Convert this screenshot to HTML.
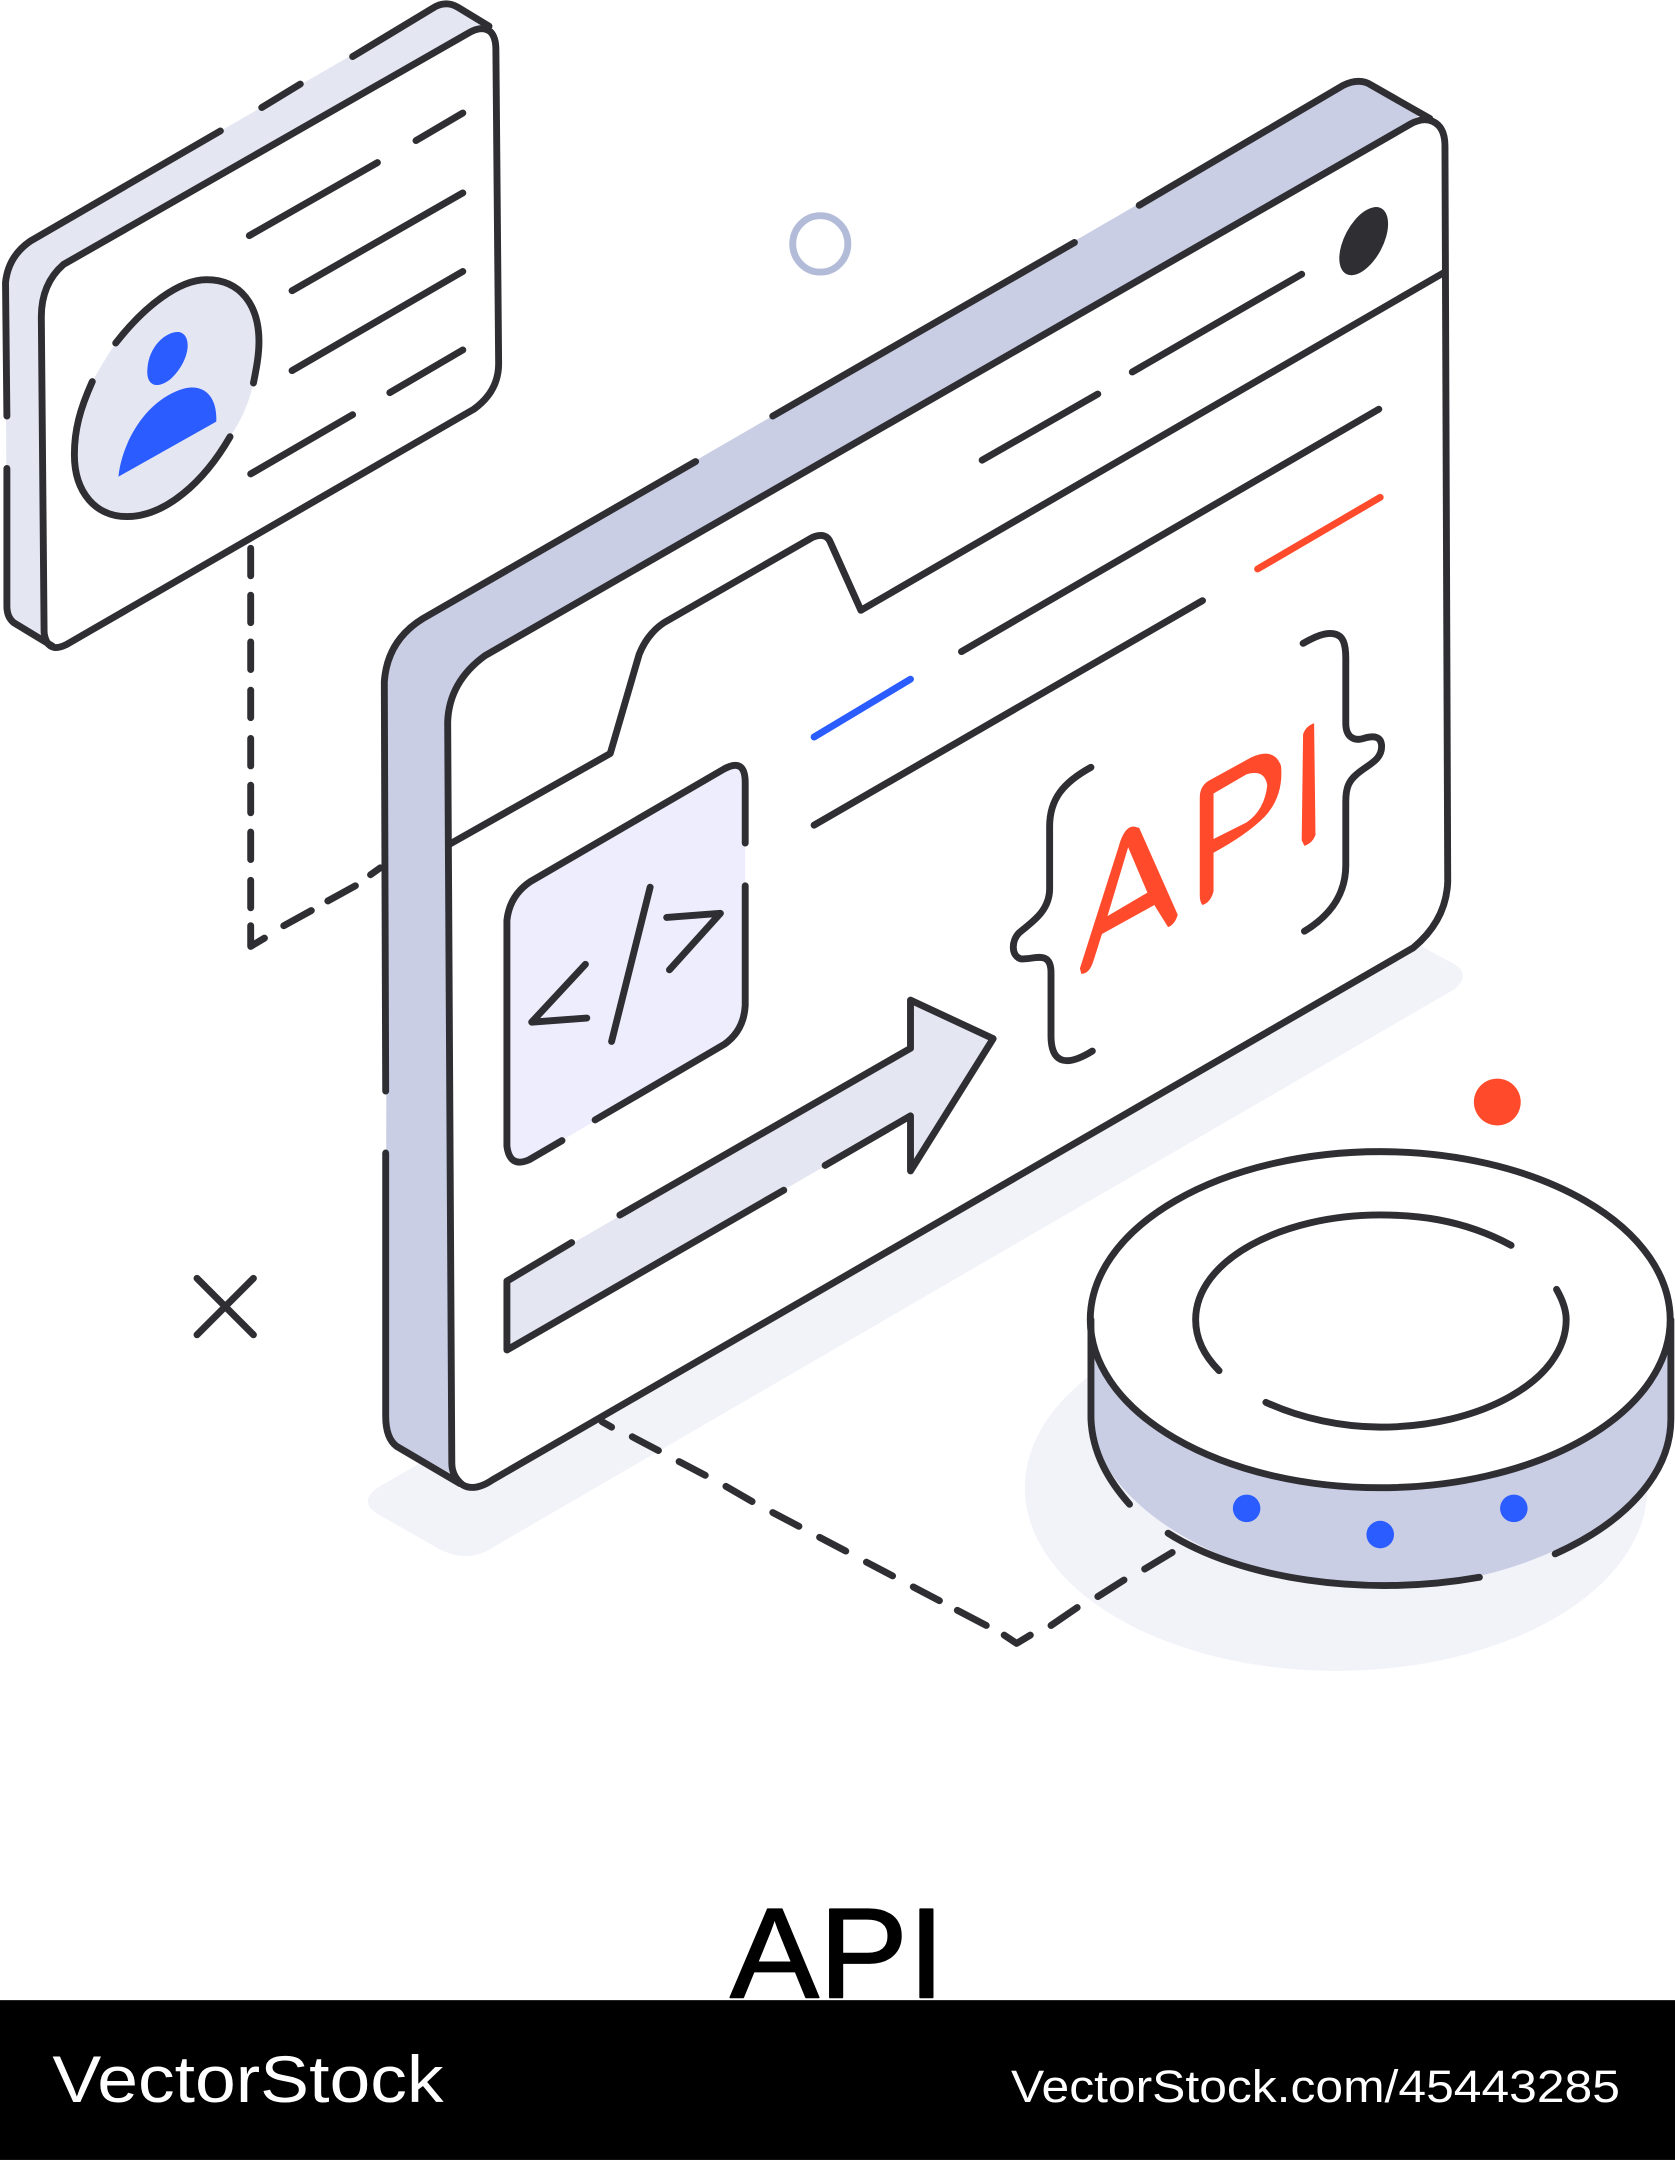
<!DOCTYPE html>
<html><head><meta charset="utf-8"><style>
html,body{margin:0;padding:0;background:#fff;width:1675px;height:2160px;overflow:hidden}
svg{display:block}
</style></head><body>
<svg xmlns="http://www.w3.org/2000/svg" width="1675" height="2160" viewBox="0 0 1216 1568">
<rect width="1216" height="1568" fill="#fff"/>
<!-- shadows -->
<path d="M1030 686L1056 700Q1068 708 1056 718L360 1122Q340 1136 318 1124L274 1099Q260 1090 274 1080L340 1042Z" fill="#f2f2f9"/>
<ellipse cx="970" cy="1080" rx="226" ry="133" fill="#f2f2f9"/>
<g fill="none" stroke="#2e2e33" stroke-width="5" stroke-linecap="round" stroke-linejoin="round">
<!-- Card -->
<path d="M4 205Q6 186 22 175L314 6Q323 0 332 5L358 20L46 205Q33 214 31 230L34 466L10 452Q5 448 5 440Z" fill="#e4e6f2" stroke="none"/>
<path d="M46 192L340 24Q350 18 356 23Q360 27 360 36L362 264Q362 284 344 297L48 468Q38 473 34 466Q32 462 32 458L30 230Q30 206 46 192Z" fill="#fff"/>
<path d="M5 302L4 205Q6 186 22 175L160 95M190 78L218 61M256 41L314 6Q323 0 332 5L355 19M5 340L5 440Q5 448 10 452L38 469"/>
<path d="M181 171L274 118M302 102L336 82M212 211L336 140M212 269L336 197M182 344L256 301M283 285L336 254"/>
<!-- avatar -->
<path d="M84 249C105 222 130 203 150 203C175 203 188 222 188 248C188 258 186 268 184 278C180 295 175 305 167 317C148 350 120 375 92 375C70 375 54 358 54 330C54 312 58 297 67 277C72 268 78 258 84 249Z" fill="#e4e6f2" stroke="none"/>
<path d="M84 249C105 222 130 203 150 203C175 203 188 222 188 248C188 258 186 268 184 278M67 277C58 297 54 312 54 330C54 358 70 375 92 375C120 375 148 350 167 317"/>
<path d="M107 268C108 250 122 240 130 241C140 243 138 262 124 275C114 283 106 280 107 268Z" fill="#2a5cff" stroke="none"/>
<path d="M86 346C88 325 102 295 128 284C146 276 158 286 157 306Z" fill="#2a5cff" stroke="none"/>
<!-- dashed from card -->
<path d="M182 398V418M182 432V452M182 466V486M182 501V521M182 536V556M182 570V590M182 604V624M182 639V659M182 672V687L192 681M206 672L226 661M238 654L258 643M269 635L276 630"/>
<!-- Window side -->
<path d="M281 495Q283 465 307 449L975 62Q987 56 996 62L1030 84L352 474Q328 490 325 520L328 1070L288 1048Q280 1042 280 1028Z" fill="#c9cee5" stroke="none"/>
<path d="M352 476L1024 90Q1033 85 1040 88Q1049 92 1049 106L1051 640Q1050 668 1026 688L358 1074Q345 1083 336 1078Q328 1072 328 1062L325 524Q326 495 352 476Z" fill="#fff"/>
<path d="M280 792L279 495Q281 465 307 449L505 335M561 302L780 176M827 149L975 62Q987 56 996 62L1038 86M280 837L280 1028Q280 1044 288 1050L334 1077"/>
<path d="M713 334L797 286M822 270L945 199M698 473L1001 297M591 599L873 436"/>
<path d="M326 613L443 547L464 475Q470 460 482 452L590 390Q600 386 603 394L625 443L1048 198"/>
<ellipse cx="990" cy="175" rx="14" ry="27" transform="rotate(28 990 175)" fill="#2e2e33" stroke="none"/>
<path d="M591 535L661 493" stroke="#2a5cff"/>
<path d="M913 413L1002 361" stroke="#ff4a2b"/>
<!-- code box -->
<path d="M385 640L526 558Q541 550 541 568V730Q540 748 526 758L384 842Q370 848 368 832V668Q370 650 385 640Z" fill="#eeedfd" stroke="none"/>
<path d="M541 612V568Q541 550 526 558L385 640Q370 650 368 668V832Q370 848 384 842L408 828M432 813L526 758Q540 748 541 730V643"/>
<path d="M425 700L386 742L426 739M472 644L444 756M484 666L523 663L486 704"/>
<!-- arrow -->
<path d="M368 930L661 761V726L721 754L662 850V810L368 980Z" fill="#e4e6f2" stroke="none"/>
<path d="M415 902L368 930V980L569 864M599 846L661 810V850L721 754L661 726V761L450 882"/>
<!-- braces -->
<path d="M792 557C772 568 762 580 762 600V645C762 662 748 670 740 677C734 683 734 694 741 696C750 697 763 689 763 706V752C763 770 772 776 793 763"/>
<path d="M946 467C955 462 962 459 968 460C975 461 977 467 977 478V525C977 536 984 538 990 536C997 534 1003 534 1003 542C1003 552 993 555 985 562C979 567 977 572 977 582V628C977 650 965 665 947 676"/>
<!-- server -->
<path d="M792 958V1030C795 1090 890 1152 1002 1152C1120 1152 1212 1090 1213 1030V958Z" fill="#c9cee5" stroke="none"/>
<ellipse cx="1002" cy="958" rx="210.500" ry="122" fill="#fff"/>
<path d="M792 958V1030C793 1055 805 1075 820 1092M848 1113C900 1146 990 1160 1074 1145M1129 1128C1180 1105 1213 1070 1213 1030V958"/>
<path d="M1097 904C1060 884 1025 882 1002 882C930 882 868 915 868 958C868 973 875 985 885 995M919 1018C945 1030 975 1036 1002 1036C1075 1036 1137 1002 1137 958C1137 950 1134 943 1130 936"/>
<!-- bottom dashed -->
<path d="M437 1032L444 1036M459 1043L478 1053M493 1061L512 1071M527 1079L546 1090M561 1098L580 1108M595 1116L614 1126M629 1134L648 1144M663 1152L682 1162M695 1169L716 1180M729 1187L738 1193L748 1187M763 1180L782 1167M797 1159L816 1147M831 1139L851 1127"/>
</g>
<circle cx="905" cy="1095" r="10" fill="#2a5cff"/>
<circle cx="1002" cy="1114" r="10" fill="#2a5cff"/>
<circle cx="1099" cy="1095" r="10" fill="#2a5cff"/>
<circle cx="1087" cy="800" r="17" fill="#ff4a2b"/>
<ellipse cx="595.500" cy="177" rx="20" ry="20.500" fill="none" stroke="#b2bcd8" stroke-width="5"/>
<path d="M143 928L184 969M184 928L143 969" stroke="#2e2e33" stroke-width="5" stroke-linecap="round"/>
<!-- API red letters (icon artwork) -->
<g fill="#ff4a2b" fill-rule="evenodd">
<path d="M784 703L812 615Q816 600 823 600L827 601L855 664Q853 671 848 673L838 657L800 678L794 697Q791 707 785 707ZM819 615L804 665L833 648Z"/>
<path d="M871 579Q871 571 877 567L908 550Q925 542 930 556Q932 578 918 593Q905 606 881 619L881 647Q879 655 873 657Q871 655 871 650ZM881 576V609L905 597Q918 588 920 570Q918 558 905 562Z"/>
<path d="M946 533Q948 527 954 525L955 606Q953 612 947 614L945 610Z"/>
</g>
<!-- footer -->
<text x="530" y="1450" font-family="'Liberation Sans',sans-serif" font-size="93" fill="#000" stroke="#000" stroke-width="1.200" stroke-linejoin="round" textLength="156" lengthAdjust="spacingAndGlyphs">API</text>
<rect y="1452" width="1216" height="116" fill="#000"/>
<text x="38" y="1526" font-family="'Liberation Sans',sans-serif" font-size="48" fill="#fff" textLength="284" lengthAdjust="spacingAndGlyphs">VectorStock</text>
<text x="734" y="1526" font-family="'Liberation Sans',sans-serif" font-size="33" fill="#fff" textLength="442" lengthAdjust="spacingAndGlyphs">VectorStock.com/45443285</text>
</svg>
</body></html>
